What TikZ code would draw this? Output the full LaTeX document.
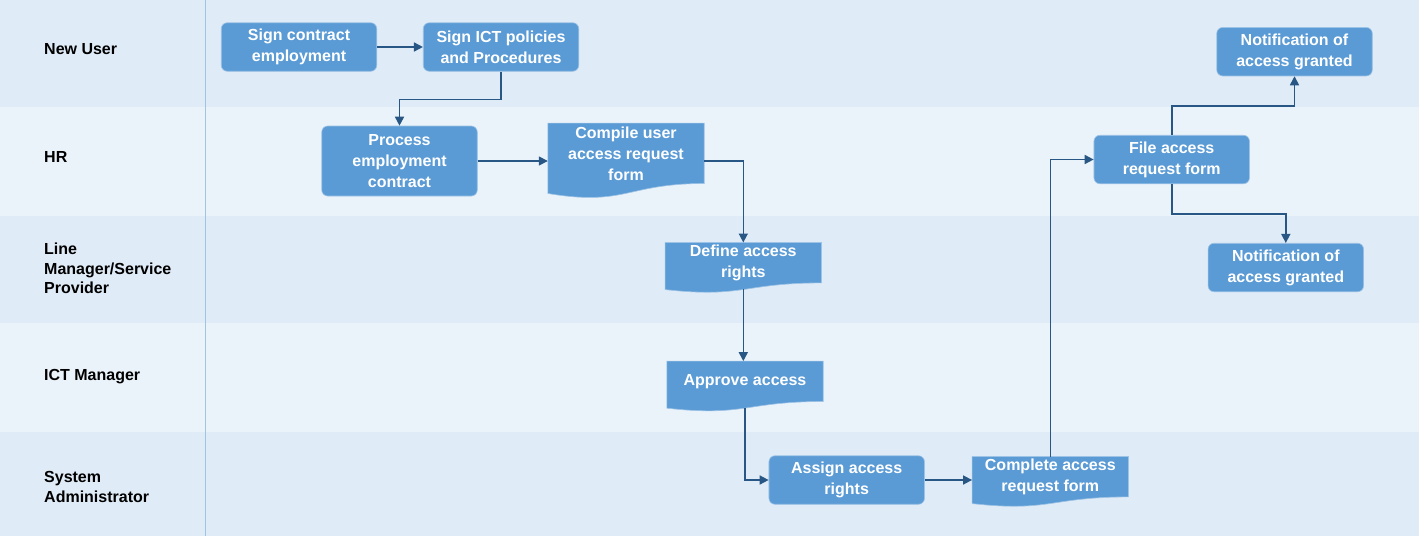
\documentclass[tikz,border=0pt]{standalone}
\usepackage{fontspec}
\setmainfont{Liberation Sans}
\usetikzlibrary{arrows.meta,calc}

\definecolor{boxblue}{HTML}{5B9BD5}
\definecolor{boxedge}{HTML}{9DC3E6}
\definecolor{flowblue}{HTML}{285785}
\definecolor{lanedark}{HTML}{DFEBF6}
\definecolor{lanelight}{HTML}{EAF2FA}
\definecolor{lanerule}{HTML}{A3C3E4}

\pgfdeclarelayer{lanes}
\pgfdeclarelayer{shapes}
\pgfsetlayers{lanes,shapes,main}

% document shape: text area is the node, wavy bottom hangs below it
\newcommand{\docwave}[1]{%
  \filldraw[fill=boxblue, draw=boxedge, line width=0.6pt]
    (#1.north west) -- (#1.north east) -- (#1.south east)
    .. controls (#1.south) and ($(#1.north)!1.38!(#1.south)$)
    .. ($(#1.north west)!1.165!(#1.south west)$) -- cycle;}

\begin{document}
\begin{tikzpicture}[x=1pt, y=-1pt,
    procbox/.style={rectangle, rounded corners=6pt, fill=boxblue, draw=boxedge,
      line width=0.6pt, text=white, font=\fontsize{16}{21}\selectfont\bfseries,
      align=center, inner sep=0pt, minimum width=155.5pt, minimum height=48.5pt},
    docbox/.style={rectangle, text=white, font=\fontsize{16}{21}\selectfont\bfseries,
      align=center, inner sep=0pt, minimum width=156pt},
    lanelabel/.style={anchor=west, align=left, inner sep=0pt,
      font=\fontsize{16}{19.5}\selectfont\bfseries},
    flow/.style={draw=flowblue, line width=1.6pt, -{Triangle[length=9pt,width=9pt]}}]
    \useasboundingbox (0,0) rectangle (1419,536);

    % === Corsie ===
    \begin{pgfonlayer}{lanes}
        \foreach \ytop/\ybot/\col in {0/107.3/lanedark, 107.3/215.5/lanelight,
            215.5/323.3/lanedark, 323.3/431.7/lanelight, 431.7/536/lanedark}
            \fill[\col] (0,\ytop) rectangle (1419,\ybot);
        \draw[lanerule, line width=1pt] (205,0) -- (205,536);
    \end{pgfonlayer}

    \node[lanelabel] (lnew) at (44,49) {New User};
    \node[lanelabel] (lhr) at (44,157) {HR};
    \node[lanelabel] (lline) at (44,268.5) {Line\\Manager/Service\\Provider};
    \node[lanelabel] (lict) at (44,377) {ICT Manager};
    \node[lanelabel] (lsys) at (44,487) {System\\Administrator};

    % === Passi ===
    \node[procbox] (signc) at (299,47) {Sign contract\\employment};
    \node[procbox] (signict) at (501,47) {Sign ICT policies\\and Procedures};
    \node[procbox, minimum height=70pt] (process) at (399.5,161) {Process\\employment\\contract};
    \node[docbox, minimum height=60pt] (compile) at (626,153.3) {Compile user\\access request\\form};
    \node[docbox, minimum height=40pt] (define) at (743.3,262.7) {Define access\\rights};
    \node[docbox, minimum height=40pt] (approve) at (745,381.3) {Approve access};
    \node[procbox] (assign) at (846.7,480) {Assign access\\rights};
    \node[docbox, minimum height=40pt] (complete) at (1050.3,476.7) {Complete access\\request form};
    \node[procbox] (file) at (1171.7,159.5) {File access\\request form};
    \node[procbox] (notiftop) at (1294.5,51.7) {Notification of\\access granted};
    \node[procbox] (notifbot) at (1285.8,267.5) {Notification of\\access granted};

    % forme documento
    \begin{pgfonlayer}{shapes}
        \docwave{compile}
        \docwave{define}
        \docwave{approve}
        \docwave{complete}
    \end{pgfonlayer}

    % === Collegamenti ===
    \draw[flow] (signc) -- (signict);
    \draw[flow] (signict.south) -- ++(0,28) -| (process.north);
    \draw[flow] (process.east) -- (process.east -| compile.west);
    \draw[flow] (compile.east |- process.east) -| (define.north);
    \draw[flow] ($(define.north)!1.16!(define.south)$) -- (define.south |- approve.north);
    \draw[flow] ($(approve.north)!1.16!(approve.south)$) |- (assign.west);
    \draw[flow] (assign.east) -- (assign.east -| complete.west);
    \draw[flow] (complete.north) |- (file.west);
    \draw[flow] (file.north) -- ++(0,-29) -| (notiftop.south);
    \draw[flow] (file.south) -- ++(0,30) -| (notifbot.north);
\end{tikzpicture}
\end{document}
